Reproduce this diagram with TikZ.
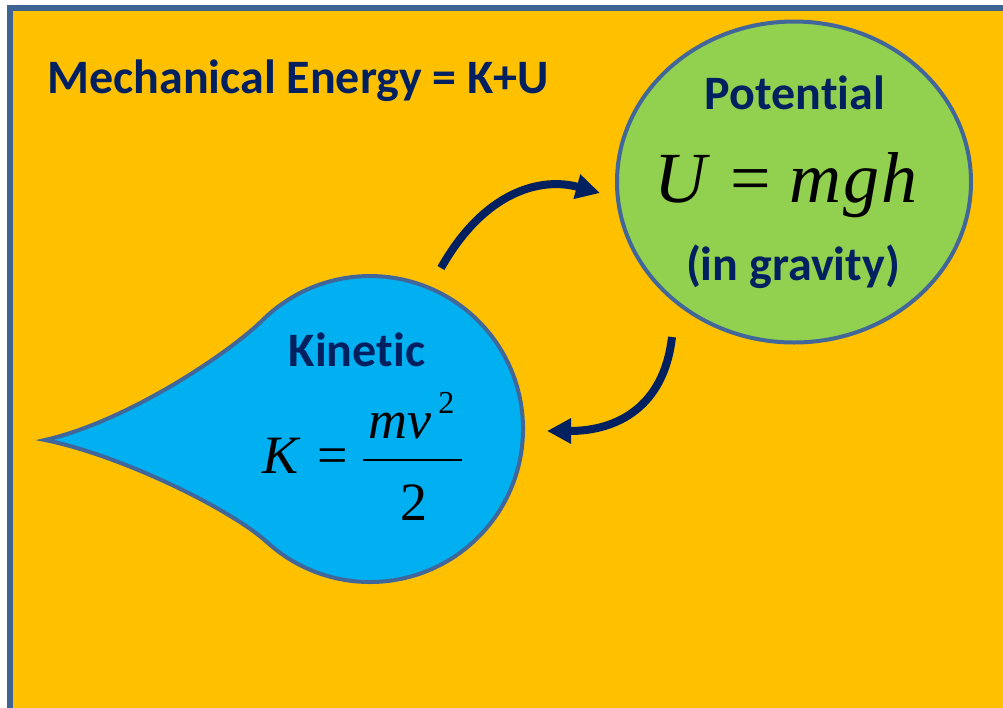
\documentclass[tikz,border=0pt]{standalone}
\usepackage{fontspec}
\setmainfont{Carlito}[Ligatures=NoCommon]
\newfontfamily\eqfont{Liberation Serif}
\usepackage{xcolor}
\usepackage{tikz}
\usetikzlibrary{positioning, arrows.meta, shapes.geometric}

\definecolor{slideorange}{HTML}{FFC000}
\definecolor{frameblue}{HTML}{3E6494}
\definecolor{edgeblue}{HTML}{41679A}
\definecolor{navy}{HTML}{002060}
\definecolor{potgreen}{HTML}{92D050}
\definecolor{kinblue}{HTML}{00B0F0}

\begin{document}
\begin{tikzpicture}[
  x={(0.5pt,0)}, y={(0,-0.5pt)},
  heading/.style={font=\bfseries\fontsize{24}{28}\selectfont, text=navy, inner sep=0pt},
  eqn/.style={font=\eqfont\fontsize{27}{30}\selectfont, inner sep=0pt},
  shapeline/.style={draw=edgeblue, line width=2pt},
  flowarrow/.style={draw=navy, line width=4pt, -{Triangle[length=12pt,width=12pt]}},
]
\clip (0,0) rectangle (1003,708);

% slide frame
\draw[fill=slideorange, draw=frameblue, line width=3pt] (10,7.5) rectangle (1030,740);

\node[heading, anchor=base west] (title) at (47,93) {Mechanical Energy = K+U};

% Potential energy bubble
\node[ellipse, shapeline, fill=potgreen, minimum width=177pt, minimum height=160.5pt,
  inner sep=0pt] (pot) at (794,182) {};
\node[heading, anchor=base] (potname) at (795,109) {Potential};
\node[eqn, font=\eqfont\fontsize{36}{40}\selectfont, anchor=base] (poteq) at (786,202)
  {\textit{U}\hspace{10pt}=\hspace{9pt}\textit{m\kern1pt g\kern1pt h}};
\node[heading, anchor=base] (potnote) at (793,280) {(in gravity)};

% Kinetic energy drop
\coordinate (kin) at (370,429);
\draw[shapeline, fill=kinblue] (45,440) .. controls (125,422) and (227,355) .. (262.8,319.9)
  arc[start angle=225.5, end angle=492, radius=153]
  .. controls (231,509) and (120,455) .. cycle;
\node[heading, anchor=base] (kinname) at (357,366) {Kinetic};
\node[eqn, anchor=base west] (keq) at (262,473) {\textit{K}};
\node[eqn, anchor=base] (keqsign) at (333,473) {=};
\node[eqn, anchor=base west] (knum) at (368,438) {\textit{mv}};
\node[eqn, font=\eqfont\fontsize{16}{18}\selectfont, anchor=base west] (ksq) at (438,413) {2};
\node[eqn, anchor=base] (kden) at (414,520) {2};
\draw[line width=1pt] (363,460) -- (462,460);

% energy exchange
\coordinate (kin-top) at (441,268);
\coordinate (pot-left) at (600,193);
\coordinate (pot-bottom) at (672,337);
\coordinate (kin-right) at (547,431);
\draw[flowarrow] (kin-top) .. controls (485,190) and (542,177) .. (pot-left);
\draw[flowarrow] (pot-bottom) .. controls (664,407) and (617,431) .. (kin-right);

\end{tikzpicture}
\end{document}
